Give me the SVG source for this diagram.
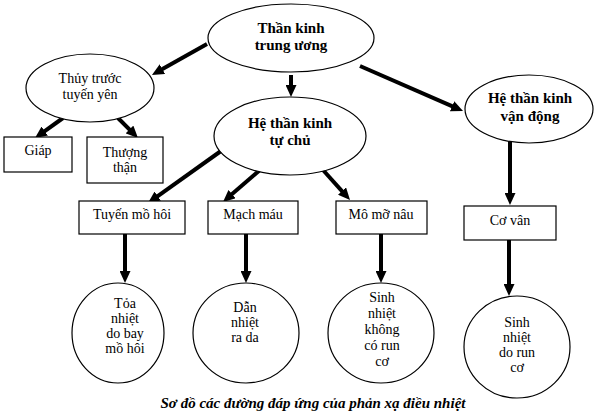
<svg xmlns="http://www.w3.org/2000/svg" width="600" height="416" viewBox="0 0 600 416">
<defs>
<style>
.shape{fill:#fff;stroke:#000;stroke-width:1.2}
.t{font-family:"Liberation Serif","Times New Roman",serif;font-size:14px;fill:#000;text-anchor:middle}
.b{font-weight:bold;font-size:15px}
.cap{font-family:"Liberation Serif","Times New Roman",serif;font-size:15px;font-weight:bold;font-style:italic;text-anchor:middle}
.a{stroke:#000;stroke-width:4;fill:none;marker-end:url(#ah)}
</style>
<marker id="ah" markerUnits="userSpaceOnUse" markerWidth="13" markerHeight="11" refX="3" refY="5.5" orient="auto" viewBox="0 0 13 11">
<path d="M0,0 L12,5.5 L0,11 z" fill="#000"/>
</marker>
</defs>
<rect width="600" height="416" fill="#fff"/>
<g id="connectors">
<line class="a" x1="207" y1="44" x2="159.8" y2="70.6"/>
<line class="a" x1="291" y1="75" x2="291" y2="88"/>
<line class="a" x1="360" y1="66" x2="454.8" y2="107.4"/>
<line class="a" x1="63" y1="118" x2="42.3" y2="132.8"/>
<line class="a" x1="118" y1="118" x2="131.6" y2="131.6"/>
<line class="a" x1="221" y1="151" x2="155.3" y2="197.8"/>
<line class="a" x1="260" y1="170" x2="229.8" y2="196.1"/>
<line class="a" x1="323" y1="170" x2="344" y2="193.3"/>
<line class="a" x1="510" y1="138" x2="510" y2="196"/>
<line class="a" x1="125" y1="234" x2="125" y2="274"/>
<line class="a" x1="246" y1="234" x2="246" y2="274"/>
<line class="a" x1="381" y1="234" x2="381" y2="274"/>
<line class="a" x1="509" y1="240" x2="509" y2="287"/>
</g>
<g id="tkTrungUong">
<ellipse class="shape" cx="291" cy="38" rx="83" ry="34"/>
<text class="t b" x="291" y="33">Thần kinh</text>
<text class="t b" x="291" y="50">trung ương</text>
</g>
<g id="thuyTruoc">
<ellipse class="shape" cx="90" cy="88" rx="64" ry="34"/>
<text class="t" x="90" y="83">Thủy trước</text>
<text class="t" x="90" y="99">tuyến yên</text>
</g>
<g id="giap">
<rect class="shape" x="4" y="137" width="68" height="35"/>
<text class="t" x="38" y="155">Giáp</text>
</g>
<g id="thuongThan">
<rect class="shape" x="87" y="137" width="76" height="46"/>
<text class="t" x="125" y="157">Thượng</text>
<text class="t" x="125" y="172">thận</text>
</g>
<g id="heTuChu">
<ellipse class="shape" cx="290" cy="136" rx="76" ry="39"/>
<text class="t b" x="290" y="128">Hệ thần kinh</text>
<text class="t b" x="290" y="145">tự chủ</text>
</g>
<g id="heVanDong">
<ellipse class="shape" cx="529" cy="109" rx="64" ry="34"/>
<text class="t b" x="530" y="103">Hệ thần kinh</text>
<text class="t b" x="530" y="121">vận động</text>
</g>
<g id="tuyenMoHoi">
<rect class="shape" x="79" y="201" width="106" height="33"/>
<text class="t" x="132" y="219">Tuyến mồ hôi</text>
</g>
<g id="machMau">
<rect class="shape" x="208" y="201" width="90" height="33"/>
<text class="t" x="253" y="219">Mạch máu</text>
</g>
<g id="moMoNau">
<rect class="shape" x="336" y="201" width="91" height="33"/>
<text class="t" x="381" y="219">Mô mỡ nâu</text>
</g>
<g id="coVan">
<rect class="shape" x="464" y="206" width="92" height="34"/>
<text class="t" x="510" y="225">Cơ vân</text>
</g>
<g id="toaNhiet">
<ellipse class="shape" cx="118" cy="333" rx="46" ry="50"/>
<text class="t" x="125" y="308">Tỏa</text>
<text class="t" x="125" y="323">nhiệt</text>
<text class="t" x="125" y="338">do bay</text>
<text class="t" x="125" y="353">mồ hôi</text>
</g>
<g id="danNhiet">
<ellipse class="shape" cx="246" cy="333" rx="53" ry="50"/>
<text class="t" x="245" y="312">Dẫn</text>
<text class="t" x="245" y="327">nhiệt</text>
<text class="t" x="245" y="342">ra da</text>
</g>
<g id="sinhNhietKhongRun">
<ellipse class="shape" cx="381" cy="333" rx="53" ry="50"/>
<text class="t" x="382" y="302">Sinh</text>
<text class="t" x="382" y="318">nhiệt</text>
<text class="t" x="382" y="334">không</text>
<text class="t" x="382" y="350">có run</text>
<text class="t" x="382" y="366">cơ</text>
</g>
<g id="sinhNhietRun">
<ellipse class="shape" cx="517" cy="347" rx="53" ry="51"/>
<text class="t" x="517" y="327">Sinh</text>
<text class="t" x="517" y="342">nhiệt</text>
<text class="t" x="517" y="357">do run</text>
<text class="t" x="517" y="372">cơ</text>
</g>
<text class="cap" x="313" y="408">Sơ đồ các đường đáp ứng của phản xạ điều nhiệt</text>
</svg>
